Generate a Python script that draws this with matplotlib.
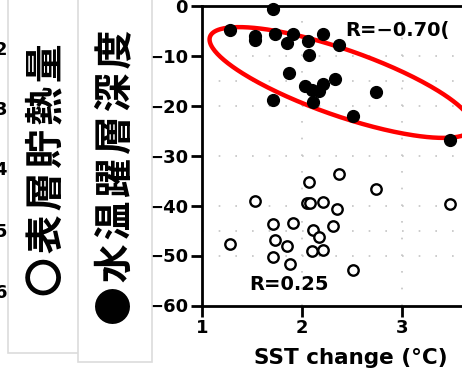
import numpy as np
import matplotlib.pyplot as plt
from matplotlib.patches import Rectangle

# filled dots: thermocline depth change
depth_sst = [1.28, 1.53, 1.53, 1.71, 1.73, 1.85, 1.91, 2.06, 2.21, 2.37,
             2.07, 1.87, 1.71, 2.03, 2.10, 2.17, 2.21, 2.33, 2.11, 2.74,
             2.51, 3.48]
depth_val = [-4.9, -6.0, -6.8, -0.6, -5.6, -7.4, -5.7, -7.0, -5.6, -7.8,
             -9.9, -13.4, -18.8, -16.0, -16.8, -17.0, -15.7, -14.7, -19.2, -17.2,
             -22.1, -26.9]

# open circles: surface heat content change
heat_sst = [1.28, 1.53, 1.71, 1.73, 1.71, 1.85, 1.88, 1.91, 2.07, 2.05,
            2.08, 2.21, 2.11, 2.17, 2.10, 2.21, 2.31, 2.35, 2.37, 2.74,
            2.51, 3.48]
heat_val = [-47.7, -39.0, -43.6, -46.8, -50.2, -48.1, -51.6, -43.4, -35.2, -39.4,
            -39.4, -39.2, -44.9, -46.2, -49.0, -48.9, -44.0, -40.7, -33.7, -36.6,
            -52.9, -39.7]

yticks = [0, -10, -20, -30, -40, -50, -60]
xticks = [1, 2, 3]
grid_y = [-10, -15, -20, -30, -40, -45, -50]
grid_x = [2, 3]
left_cut_labels = ["2", "3", "4", "5", "6"]
left_cut_y = [50, 110, 170, 232, 293]   # pixel rows, from top

W, H = 462, 372
fig = plt.figure(figsize=(W / 100, H / 100), dpi=100)

# boxed vertical legend labels on the left
cjk = ['Noto Sans CJK JP', 'DejaVu Sans']
fig.patches.append(Rectangle((8 / W, 1 - 353 / H), 74 / W, 353 / H + 0.05,
                             transform=fig.transFigure, facecolor='white',
                             edgecolor='#dcdcdc', linewidth=1.2, zorder=1))
fig.patches.append(Rectangle((78 / W, 1 - 362 / H), 74 / W, 362 / H + 0.05,
                             transform=fig.transFigure, facecolor='white',
                             edgecolor='#dcdcdc', linewidth=1.2, zorder=2))
hs = "\u200a"
fig.text(47 / W, 1 - 170 / H, hs.join("〇表層貯熱量"), rotation=90, ha='center',
         va='center', fontsize=28, fontweight='bold', family=cjk, zorder=3)
fig.text(116 / W, 1 - 177 / H, hs.join("●水温躍層深度"), rotation=90, ha='center',
         va='center', fontsize=28, fontweight='bold', family=cjk, zorder=3)

# tick labels of the neighbouring panel, cut by the crop
for lab, yp in zip(left_cut_labels, left_cut_y):
    fig.text(7 / W, 1 - yp / H, lab, ha='right', va='center', fontsize=13,
             fontweight='bold')

# main axes (runs past the right edge of the crop)
ax = fig.add_axes([202 / W, 1 - 305.5 / H, 300 / W, 300 / H])
ax.set_xlim(1, 4)
ax.set_ylim(-60, 0)

for gy in grid_y:
    ax.axhline(gy, color='#c4c4c4', linewidth=1.2, linestyle=(0, (1, 9)), zorder=0)
for gx in grid_x:
    ax.axvline(gx, color='#c4c4c4', linewidth=1.2, linestyle=(0, (1, 9)), zorder=0)

# red ellipse around the filled dots
t = np.linspace(0, 2 * np.pi, 300)
cx, cy = 2.39, -15.4
mx, my = 1.31, -9.16
nx, ny = -0.109, -6.23
ax.plot(cx + mx * np.cos(t) + nx * np.sin(t), cy + my * np.cos(t) + ny * np.sin(t),
        color='#ff0000', linewidth=3.2, zorder=2)

ax.plot(depth_sst, depth_val, 'o', color='black', markersize=8.5, zorder=3, clip_on=False)
ax.plot(heat_sst, heat_val, 'o', markerfacecolor='white', markeredgecolor='black',
        markersize=7.5, markeredgewidth=1.7, zorder=3)

ax.text(2.43, -4.9, "R=\u22120.70(", fontsize=14, fontweight='bold', ha='left', va='center')
ax.text(1.47, -55.9, "R=0.25", fontsize=14, fontweight='bold', ha='left', va='center')

ax.set_xticks(xticks)
ax.set_yticks(yticks)
ax.set_xticklabels([str(v) for v in xticks], fontsize=13, fontweight='bold')
ax.set_yticklabels([str(v).replace('-', '\u2212') for v in yticks], fontsize=13,
                   fontweight='bold')
ax.tick_params(direction='out', length=8, width=2, pad=2)
for s in ['left', 'bottom', 'top']:
    ax.spines[s].set_linewidth(2)
ax.spines['right'].set_visible(False)

fig.text(351 / W, 1 - 358 / H, "SST change (°C)", ha='center', va='center',
         fontsize=15.5, fontweight='bold')

fig.savefig("out.png", dpi=100)
